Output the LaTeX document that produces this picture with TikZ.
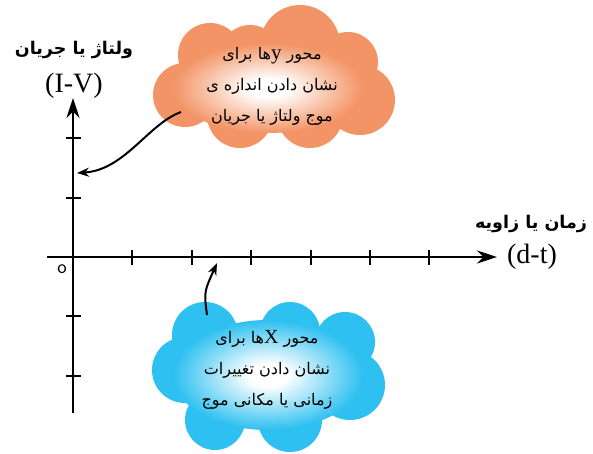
\documentclass[tikz,border=0pt]{standalone}
\usepackage{fontspec}
\usetikzlibrary{arrows.meta}
\TeXXeTstate=1
\newfontfamily\arabicfont[Script=Arabic]{DejaVu Sans}
\newfontfamily\latinfont{Liberation Serif}
\definecolor{cloudorange}{RGB}{243,148,102}
\definecolor{cloudblue}{RGB}{45,192,240}
\pgfdeclareradialshading{orangeglow}{\pgfpointorigin}{color(0bp)=(white); color(5bp)=(white); color(14bp)=(cloudorange!45!white); color(25bp)=(cloudorange); color(50bp)=(cloudorange)}
\pgfdeclareradialshading{blueglow}{\pgfpointorigin}{color(0bp)=(white); color(5bp)=(white); color(14bp)=(cloudblue!45!white); color(25bp)=(cloudblue); color(50bp)=(cloudblue)}
\tikzset{
  axis/.style={line width=2.8pt, -{Stealth[length=20pt,width=13pt]}},
  tick/.style={line width=2.1pt},
  pointer/.style={line width=2pt, -{Stealth[length=12pt,width=9pt]}},
  title/.style={font=\arabicfont\bfseries\fontsize{17.5}{19}\selectfont},
  unit/.style={font=\latinfont\fontsize{28}{30}\selectfont},
  note/.style={font=\arabicfont\fontsize{16}{31}\selectfont, align=center},
}
\begin{document}
\begin{tikzpicture}[x=1pt, y=-1pt]
  \useasboundingbox (0,0) rectangle (593,454);

  % orange cloud (y axis note)
  \foreach \cx/\cy/\r in {210/55/32, 300/45/40, 348/62/30, 360/100/35, 185/95/32,
      240/115/33, 310/115/33, 270/85/45, 250/55/30, 230/85/35, 320/85/40}
    \fill[cloudorange] (\cx,\cy) circle[radius=\r pt];
  \shade[shading=orangeglow] (268,88) ellipse[x radius=95pt, y radius=45pt];
  \node[note] (ynote) at (272,86)
    {\beginR محور \beginL{\latinfont\fontsize{21}{21}\selectfont y}\endL ها برای\endR\\
     \beginR نشان دادن اندازه ی\endR\\
     \beginR موج ولتاژ یا جریان\endR};

  % blue cloud (x axis note)
  \foreach \cx/\cy/\r in {205/335/33, 290/332/30, 345/342/30, 185/370/33, 350/385/35,
      215/420/30, 290/420/32, 265/375/50, 240/375/45, 300/375/45}
    \fill[cloudblue] (\cx,\cy) circle[radius=\r pt];
  \shade[shading=blueglow] (268,375) ellipse[x radius=95pt, y radius=55pt];
  \node[note] (xnote) at (267,370)
    {\beginR محور \beginL{\latinfont\fontsize{20}{20}\selectfont X}\endL ها برای\endR\\
     \beginR نشان دادن تغییرات\endR\\
     \beginR زمانی یا مکانی موج\endR};

  % axes
  \coordinate (xstart) at (47,257);
  \coordinate (xend) at (497,257);
  \coordinate (ystart) at (73,413);
  \coordinate (yend) at (73,98);
  \draw[axis] (xstart) -- (xend);
  \draw[axis] (ystart) -- (yend);
  \foreach \i in {1,...,6}
    \draw[tick] (73+59.4*\i,250) -- ++(0,15);
  \foreach \v in {-2,-1,1,2}
    \draw[tick] (66,257-59.3*\v) -- ++(15,0);

  % labels
  \node[title] (ylabel) at (74,50) {\beginR ولتاژ یا جریان\endR};
  \node[unit] (yunit) at (74,86) {(I-V)};
  \node[title] (xlabel) at (531,224) {\beginR زمان یا زاویه\endR};
  \node[unit] (xunit) at (532,257) {(d-t)};
  \node[font=\sffamily\fontsize{20}{20}\selectfont] (origin) at (62,269) {o};

  % pointers
  \coordinate (ytip) at (77,173);
  \coordinate (ytail) at (181,112);
  \coordinate (xtip) at (217,263);
  \coordinate (xtail) at (207,315);
  \draw[pointer] (ytail) .. controls (148,124) and (125,170) .. (ytip);
  \draw[pointer] (xtail) .. controls (204,292) .. (xtip);
\end{tikzpicture}
\end{document}
